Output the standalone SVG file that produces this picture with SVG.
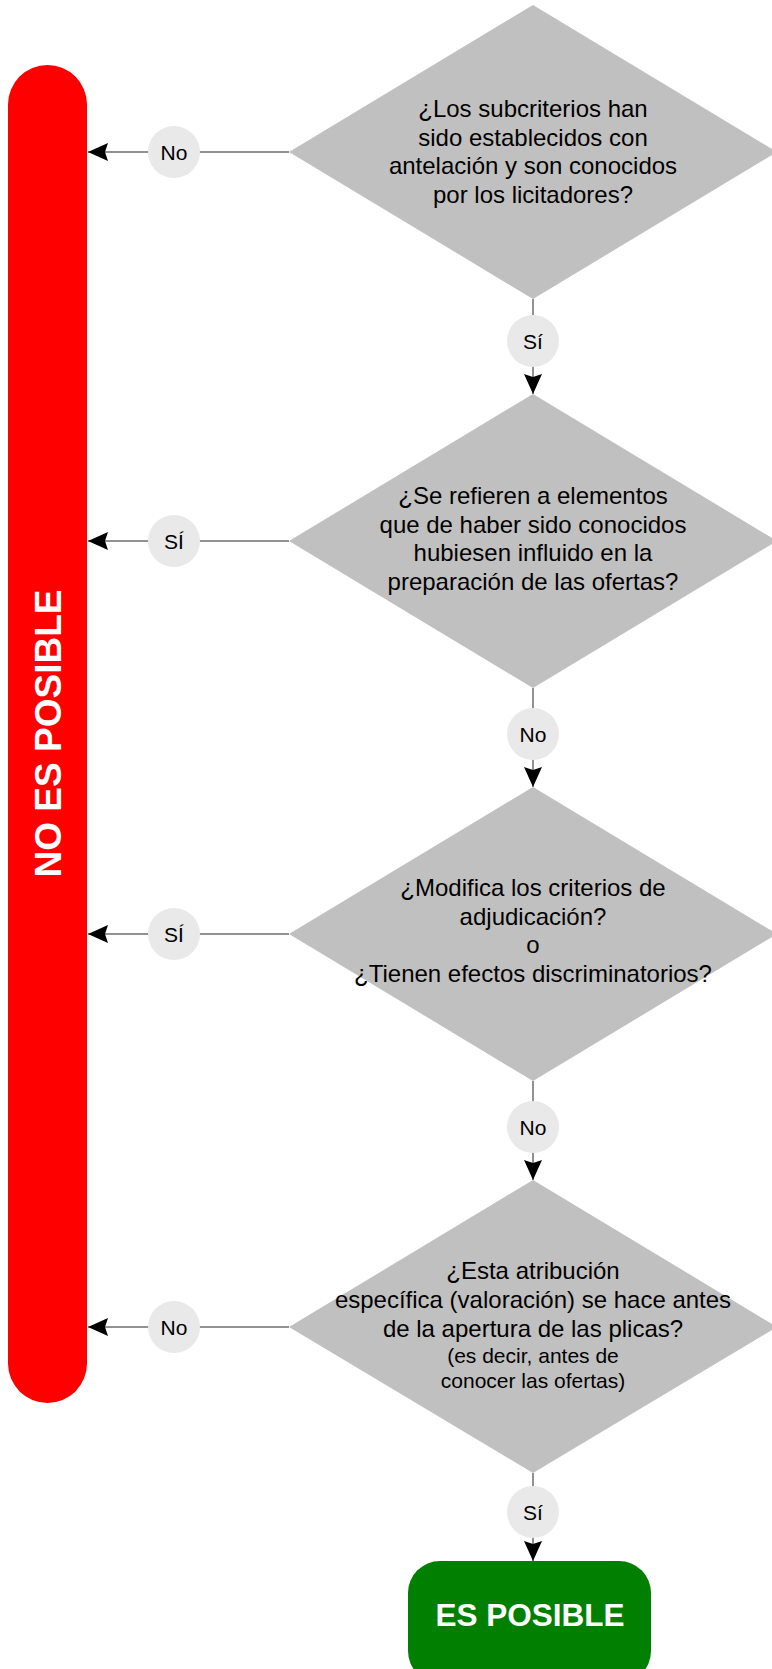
<svg xmlns="http://www.w3.org/2000/svg" width="772" height="1669" viewBox="0 0 772 1669">
<style>
.dia{fill:#c0c0c0;stroke:none}
.q{font-family:"Liberation Sans",Arial,sans-serif;font-size:24px;fill:#000;text-anchor:middle}
.qs{font-size:21px}
.lbl{fill:#e9e9e9;stroke:none}
.lt{font-family:"Liberation Sans",Arial,sans-serif;font-size:21px;fill:#000;text-anchor:middle}
.conn{stroke:#6e6e6e;stroke-width:1.5;fill:none}
.term{font-family:"Liberation Sans",Arial,sans-serif;font-weight:bold;fill:#fff;text-anchor:middle}
</style>
<defs>
<marker id="arr" markerUnits="userSpaceOnUse" viewBox="0 0 20 18" refX="20" refY="9" markerWidth="20" markerHeight="18" orient="auto">
<path d="M0,0 L20,9 L0,18 L3,9 z" fill="#000"/>
</marker>
</defs>

<g id="no-es-posible">
<rect x="8" y="65" width="79" height="1338" rx="39.5" fill="#ff0000"/>
<text class="term" font-size="37" transform="translate(60.5,733.5) rotate(-90)">NO ES POSIBLE</text>
</g>

<g id="connectors">
<line class="conn" x1="289" y1="152" x2="88" y2="152" marker-end="url(#arr)"/>
<line class="conn" x1="289" y1="541" x2="88" y2="541" marker-end="url(#arr)"/>
<line class="conn" x1="289" y1="934" x2="88" y2="934" marker-end="url(#arr)"/>
<line class="conn" x1="289" y1="1327" x2="88" y2="1327" marker-end="url(#arr)"/>
<line class="conn" x1="533" y1="299" x2="533" y2="394" marker-end="url(#arr)"/>
<line class="conn" x1="533" y1="688" x2="533" y2="787" marker-end="url(#arr)"/>
<line class="conn" x1="533" y1="1081" x2="533" y2="1180" marker-end="url(#arr)"/>
<line class="conn" x1="533" y1="1473" x2="533" y2="1561" marker-end="url(#arr)"/>
<g id="lbl-d1-no"><circle class="lbl" cx="174" cy="152" r="26"/><text class="lt" x="174" y="159.5">No</text></g>
<g id="lbl-d1-si"><circle class="lbl" cx="533" cy="341" r="26"/><text class="lt" x="533" y="348.5">Sí</text></g>
<g id="lbl-d2-si"><circle class="lbl" cx="174" cy="541" r="26"/><text class="lt" x="174" y="548.5">SÍ</text></g>
<g id="lbl-d2-no"><circle class="lbl" cx="533" cy="734" r="26"/><text class="lt" x="533" y="741.5">No</text></g>
<g id="lbl-d3-si"><circle class="lbl" cx="174" cy="934" r="26"/><text class="lt" x="174" y="941.5">SÍ</text></g>
<g id="lbl-d3-no"><circle class="lbl" cx="533" cy="1127" r="26"/><text class="lt" x="533" y="1134.5">No</text></g>
<g id="lbl-d4-no"><circle class="lbl" cx="174" cy="1327" r="26"/><text class="lt" x="174" y="1334.5">No</text></g>
<g id="lbl-d4-si"><circle class="lbl" cx="533" cy="1512" r="26"/><text class="lt" x="533" y="1519.5">Sí</text></g>
</g>

<g id="d1">
<polygon class="dia" points="533,5 777,152 533,299 289,152"/>
<text class="q" x="533" y="117">¿Los subcriterios han</text>
<text class="q" x="533" y="145.5">sido establecidos con</text>
<text class="q" x="533" y="174">antelación y son conocidos</text>
<text class="q" x="533" y="202.5">por los licitadores?</text>
</g>

<g id="d2">
<polygon class="dia" points="533,394 777,541 533,688 289,541"/>
<text class="q" x="533" y="504">¿Se refieren a elementos</text>
<text class="q" x="533" y="532.5">que de haber sido conocidos</text>
<text class="q" x="533" y="561">hubiesen influido en la</text>
<text class="q" x="533" y="589.5">preparación de las ofertas?</text>
</g>

<g id="d3">
<polygon class="dia" points="533,787 777,934 533,1081 289,934"/>
<text class="q" x="533" y="896">¿Modifica los criterios de</text>
<text class="q" x="533" y="924.5">adjudicación?</text>
<text class="q" x="533" y="953">o</text>
<text class="q" x="533" y="981.5">¿Tienen efectos discriminatorios?</text>
</g>

<g id="d4">
<polygon class="dia" points="533,1180 777,1327 533,1473 289,1327"/>
<text class="q" x="533" y="1279">¿Esta atribución</text>
<text class="q" x="533" y="1308">específica (valoración) se hace antes</text>
<text class="q" x="533" y="1337">de la apertura de las plicas?</text>
<text class="q qs" x="533" y="1363">(es decir, antes de</text>
<text class="q qs" x="533" y="1388">conocer las ofertas)</text>
</g>

<g id="es-posible">
<rect x="408" y="1561" width="243" height="122" rx="32" fill="#007f00"/>
<text class="term" font-size="31.5" x="530" y="1626">ES POSIBLE</text>
</g>
</svg>
